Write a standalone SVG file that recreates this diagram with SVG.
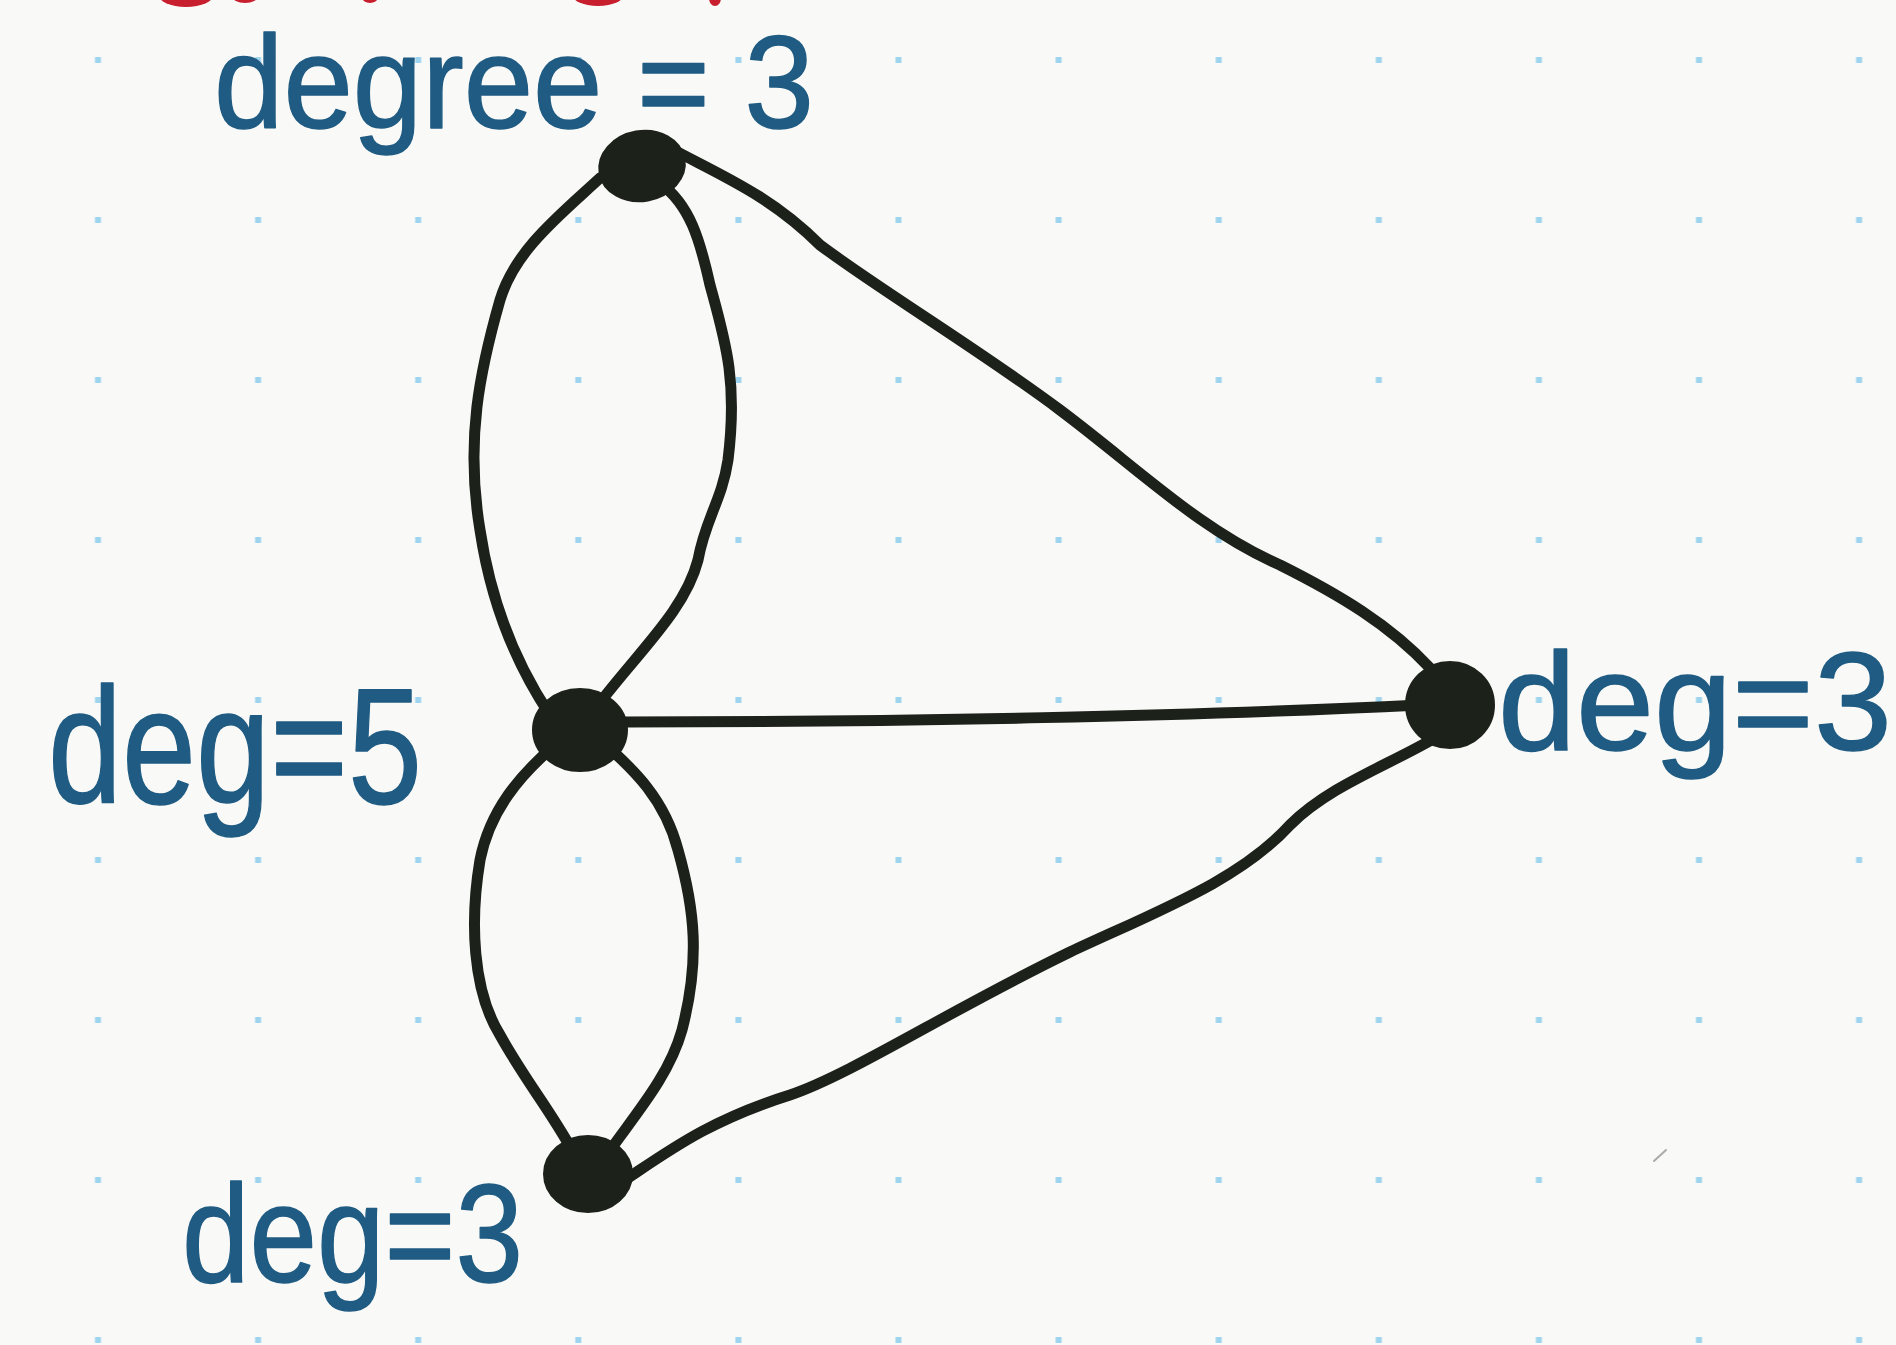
<svg xmlns="http://www.w3.org/2000/svg" width="1896" height="1345" viewBox="0 0 1896 1345">
  <defs>
    <pattern id="dots" patternUnits="userSpaceOnUse" x="18" y="-20" width="160.1" height="160">
      <rect x="77" y="77" width="6" height="6" fill="#9fd4ee"/>
    </pattern>
    <style>
      .edge { fill: none; stroke: #1c2119; stroke-width: 11; stroke-linecap: round; stroke-linejoin: round; }
      .node { fill: #1c2119; stroke: #1c2119; stroke-width: 4; }
      .label { font-family: "Liberation Sans", "DejaVu Sans", sans-serif; fill: #1f5b82; stroke: #1f5b82; stroke-width: 1.5; stroke-linejoin: round; }
      .red { fill: #c81f2e; }
    </style>
  </defs>
  <rect width="1896" height="1345" fill="#f9f9f8"/>
  <rect width="1896" height="1345" fill="url(#dots)"/>

  <g id="cut-off-heading">
    <ellipse class="red" cx="186" cy="-6" rx="28" ry="13"/>
    <ellipse class="red" cx="245" cy="-4" rx="13" ry="7"/>
    <ellipse class="red" cx="370" cy="-3" rx="8" ry="6"/>
    <ellipse class="red" cx="598" cy="-7" rx="27" ry="13"/>
    <ellipse class="red" cx="715" cy="-2" rx="6" ry="8"/>
  </g>

  <g id="connectors">
    <path class="edge" d="M 600 178 C 560 215, 515 250, 500 300 C 480 370, 465 440, 480 530 C 492 610, 520 670, 550 715"/>
    <path class="edge" d="M 660 183 C 690 205, 700 240, 710 285 C 725 340, 738 380, 728 460 C 722 500, 705 520, 698 560 C 685 610, 640 650, 598 705"/>
    <path class="edge" d="M 670 148 C 720 175, 770 195, 820 245 C 880 290, 980 350, 1060 410 C 1140 470, 1200 530, 1280 565 C 1340 595, 1390 625, 1430 668"/>
    <path class="edge" d="M 625 722 C 900 722, 1200 716, 1420 705"/>
    <path class="edge" d="M 555 745 C 520 775, 490 810, 480 860 C 470 920, 472 990, 500 1035 C 525 1080, 550 1110, 572 1150"/>
    <path class="edge" d="M 600 740 C 635 770, 665 800, 678 850 C 695 910, 700 960, 682 1030 C 668 1080, 630 1120, 602 1162"/>
    <path class="edge" d="M 625 1180 C 670 1150, 710 1120, 790 1095 C 850 1075, 950 1010, 1070 952 C 1160 910, 1240 880, 1290 825 C 1330 785, 1390 765, 1440 735"/>
  </g>

  <g id="node-top">
    <ellipse class="node" cx="642" cy="166" rx="42" ry="34" transform="rotate(-10 642 166)"/>
  </g>
  <g id="node-middle">
    <ellipse class="node" cx="580" cy="730" rx="46" ry="40"/>
  </g>
  <g id="node-right">
    <ellipse class="node" cx="1450" cy="705" rx="43" ry="42"/>
  </g>
  <g id="node-bottom">
    <ellipse class="node" cx="588" cy="1174" rx="43" ry="37"/>
  </g>

  <g id="labels">
    <text class="label" x="214" y="128" font-size="132" textLength="600" lengthAdjust="spacingAndGlyphs">degree = 3</text>
    <text class="label" x="48" y="803" font-size="165" textLength="374" lengthAdjust="spacingAndGlyphs">deg=5</text>
    <text class="label" x="1498" y="750" font-size="140" textLength="394" lengthAdjust="spacingAndGlyphs">deg=3</text>
    <text class="label" x="182" y="1282" font-size="140" textLength="341" lengthAdjust="spacingAndGlyphs">deg=3</text>
  </g>

  <g id="stray-mark">
    <line x1="1654" y1="1161" x2="1666" y2="1150" stroke="#a9aba8" stroke-width="2" stroke-linecap="round"/>
  </g>
</svg>
